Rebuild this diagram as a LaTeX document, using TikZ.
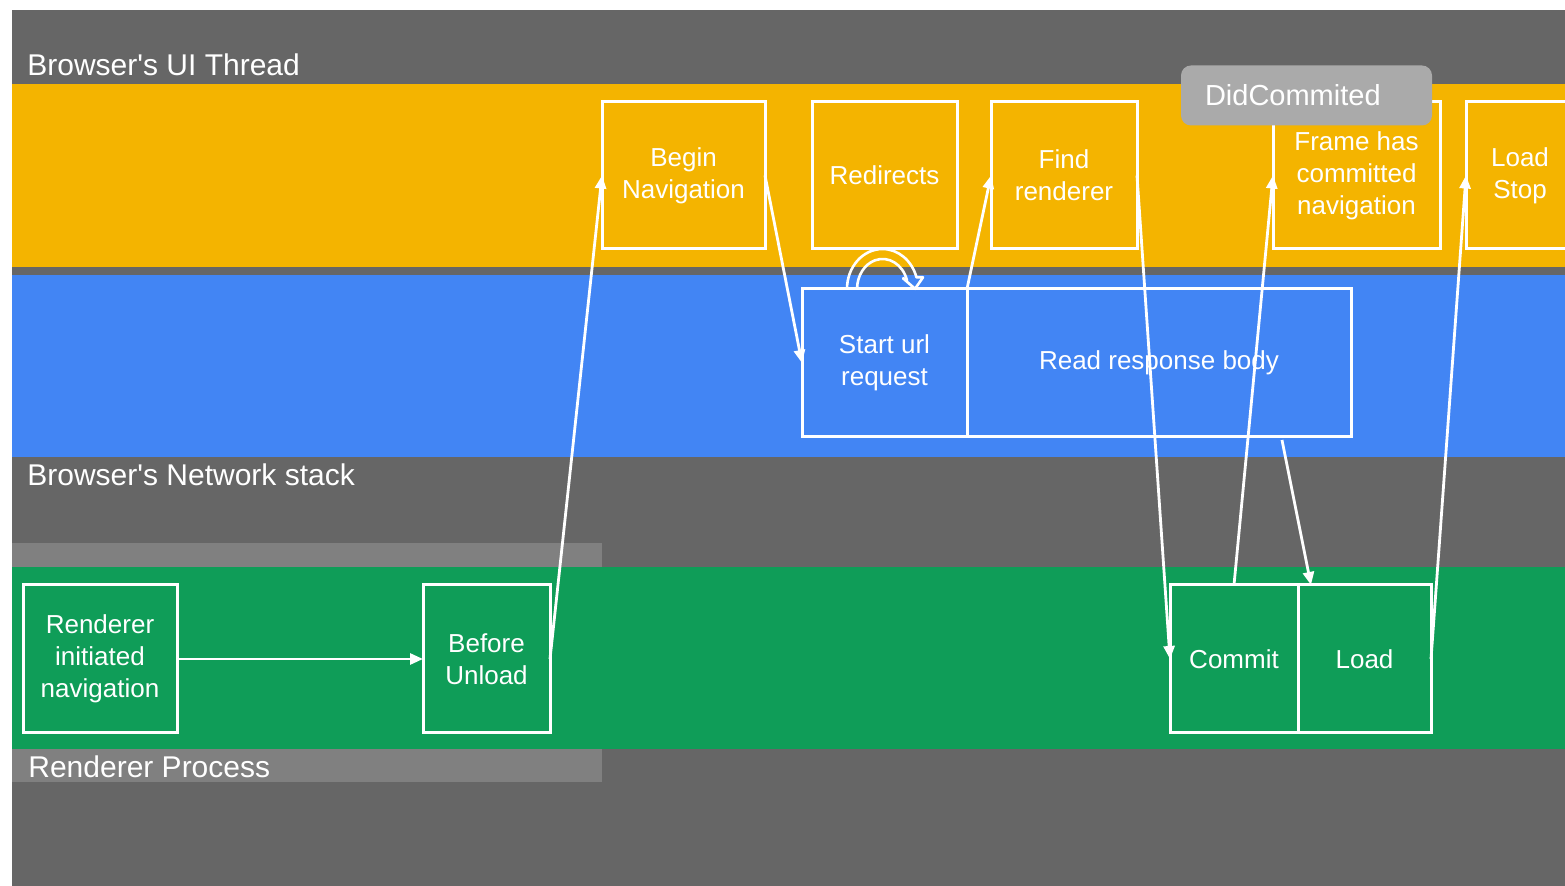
\documentclass[tikz,border=0pt]{standalone}
\usepackage{fontspec}
\setmainfont{Liberation Sans}
\usetikzlibrary{arrows.meta,positioning}
\definecolor{bggray}{HTML}{666666}
\definecolor{stripgray}{HTML}{808080}
\definecolor{taggray}{HTML}{AAAAAA}
\definecolor{uiyellow}{HTML}{F4B400}
\definecolor{netblue}{HTML}{4285F4}
\definecolor{rendgreen}{HTML}{0F9D58}
\begin{document}
\begin{tikzpicture}[x=0.5pt,y=-0.5pt,
 box/.style={draw=white,line width=1.5pt,outer sep=0pt,inner sep=2pt,align=center,text=white,font=\fontsize{13}{16}\selectfont,minimum height=73.5pt},
 lane/.style={text=white,inner sep=0pt,anchor=base west,font=\fontsize{15}{18}\selectfont},
 link/.style={white,line width=1.4pt,-{Triangle[width=5.5pt,length=6.5pt]}}]
 \useasboundingbox (0,0) rectangle (1565,886);
 \fill[bggray](12,10) rectangle (1565,886);
 \fill[uiyellow](12,84) rectangle (1565,267);
 \fill[netblue](12,275) rectangle (1565,457);
 \fill[stripgray](12,543) rectangle (602,567);
 \fill[rendgreen](12,567) rectangle (1565,749);
 \fill[stripgray](12,749) rectangle (602,782);
 \node[lane] (uilbl) at (27,76) {Browser\textquotesingle s UI Thread};
 \node[lane] (netlbl) at (27,486) {Browser\textquotesingle s Network stack};
 \node[lane] (rendlbl) at (28,778) {Renderer Process};
 \node[box,minimum width=81.5pt] (beginnav) at (683.5,175.5) {Begin\\Navigation};
 \node[box,minimum width=72.5pt] (redirects) at (884.5,175.5) {Redirects};
 \node[box,minimum width=73pt] (findrend) at (1064,175.5) {Find\\renderer};
 \node[box,minimum width=83.5pt] (framecom) at (1356.5,175.5) {Frame has\\committed\\navigation};
 \node[box,minimum width=54pt] (loadstop) at (1520,175.5) {Load\\Stop};
 \node[fill=taggray,rounded corners=5pt,inner xsep=12pt,text width=101.5pt,align=left,minimum height=30pt,text=white,font=\fontsize{14.5}{17}\selectfont] (didcom) at (1306.5,95.5) {DidCommited};
 \node[box,minimum width=82.5pt,minimum height=74pt] (starturl) at (884.5,363) {Start url\\request};
 \node[box,minimum width=192pt,minimum height=74pt,right=0pt of starturl] (readbody) {Read response body};
 \node[box,minimum width=77pt,minimum height=74pt] (rendinit) at (100,659) {Renderer\\initiated\\navigation};
 \node[box,minimum width=63.5pt,minimum height=74pt] (beforeunl) at (486.5,659) {Before\\Unload};
 \node[box,minimum width=64pt,minimum height=74pt] (commit) at (1234,659) {Commit};
 \node[box,minimum width=66.5pt,minimum height=74pt,right=0pt of commit] (load) {Load};
 \draw[link] (rendinit) -- (beforeunl);
 \draw[link] (beforeunl.east) -- (beginnav.west);
 \draw[link] (beginnav.east) -- (starturl.west);
 \draw[white,line width=1.3pt,line join=round] (starturl.north) ++(-37.5,0) arc[start angle=180,end angle=17,x radius=17.75pt,y radius=20pt] -- ++(6.6,0) -- ++(-8,11.5) -- ++(-12,-10.5) -- ++(3.9,1.9) arc[start angle=17,end angle=180,x radius=12.75pt,y radius=15pt];
 \draw[link] (starturl.north east) -- (findrend.west);
 \draw[link] (findrend.east) -- (commit.west);
 \draw[link] (commit.north) -- (framecom.west);
 \draw[link] ([xshift=61.5pt,yshift=-1.5pt]readbody.south) -- ([xshift=-26.75pt]load.north);
 \draw[link] (load.east) -- (loadstop.west);
\end{tikzpicture}
\end{document}
